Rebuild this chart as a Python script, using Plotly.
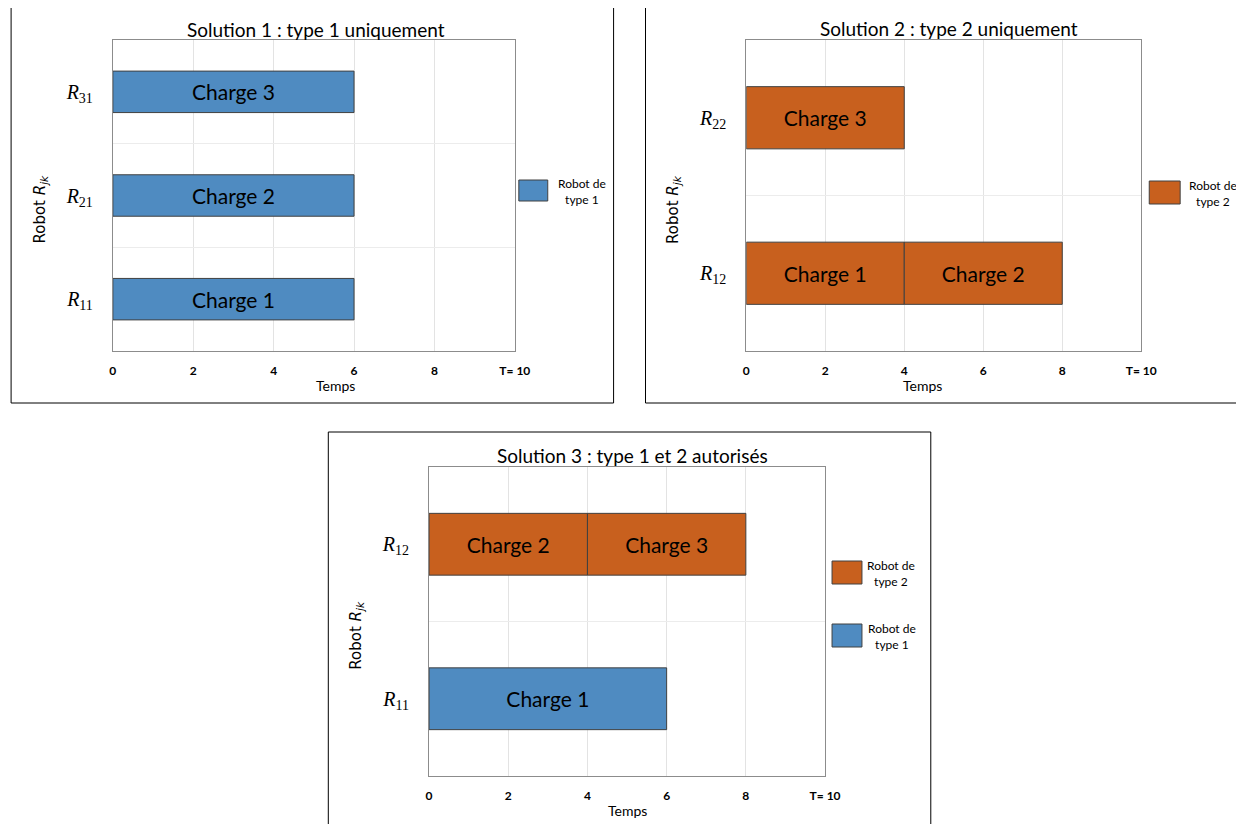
import plotly.graph_objects as go

OFF = 8              # default page margin of the html body
SX = 1260 / 1244     # horizontal page-to-picture correction observed
W, H = 1252, 816

# ---------------- data ----------------
s1_robots = ["R31", "R21", "R11"]
s1_start = [0, 0, 0]
s1_dur = [6, 6, 6]
s1_charge = ["Charge 3", "Charge 2", "Charge 1"]
s1_order = ["R11", "R21", "R31"]

s2_robots = ["R22", "R12", "R12"]
s2_start = [0, 0, 4]
s2_dur = [4, 4, 4]
s2_charge = ["Charge 3", "Charge 1", "Charge 2"]
s2_order = ["R12", "R22"]

s3_t2_robots = ["R12", "R12"]
s3_t2_start = [0, 4]
s3_t2_dur = [4, 4]
s3_t2_charge = ["Charge 2", "Charge 3"]

s3_t1_robots = ["R11"]
s3_t1_start = [0]
s3_t1_dur = [6]
s3_t1_charge = ["Charge 1"]
s3_order = ["R11", "R12"]

x_tickvals = [0, 2, 4, 6, 8, 10]
x_ticktext = ["0", "2", "4", "6", "8", "T= 10"]

titles = ["Solution 1 : type 1 uniquement",
          "Solution 2 : type 2 uniquement",
          "Solution 3 : type 1 et 2 autorisés"]

legend_names = {"t1": "Robot de<br>type 1", "t2": "Robot de<br>type 2"}

BLUE = "#4F8BC1"
ORANGE = "#C8601E"
EDGE = "#404040"
FONT = "Lato, 'Open Sans', sans-serif"


def lab(r):
    return f"<i>R</i><sub>{r[1:]}</sub>"


def px(x):
    return (x * SX - OFF) / W


def py(y):
    return 1 - (y - OFF) / H


fig = go.Figure()


def add_bars(robots, start, dur, charge, color, name, xa, ya):
    fig.add_trace(go.Bar(
        y=[lab(r) for r in robots], x=dur, base=start, orientation="h",
        width=0.4, marker=dict(color=color, line=dict(color=EDGE, width=1)),
        text=charge, textposition="inside", insidetextanchor="middle",
        textfont=dict(size=21, color="black", family=FONT),
        name=name.replace("<br>", " "), xaxis=xa, yaxis=ya, showlegend=False,
    ))


add_bars(s1_robots, s1_start, s1_dur, s1_charge, BLUE, legend_names["t1"], "x", "y")
add_bars(s2_robots, s2_start, s2_dur, s2_charge, ORANGE, legend_names["t2"], "x2", "y2")
add_bars(s3_t2_robots, s3_t2_start, s3_t2_dur, s3_t2_charge, ORANGE, legend_names["t2"], "x3", "y3")
add_bars(s3_t1_robots, s3_t1_start, s3_t1_dur, s3_t1_charge, BLUE, legend_names["t1"], "x3", "y3")

# plot-area rectangles (pixels): x0, x1, ytop, ybottom
areas = [(110, 513, 40, 351), (745, 1141, 40, 351), (427, 824, 467, 776)]
orders = [s1_order, s2_order, s3_order]

layout = dict(
    width=W, height=H, margin=dict(l=0, r=0, t=0, b=0),
    paper_bgcolor="white", plot_bgcolor="white", barmode="overlay",
    font=dict(family=FONT, color="black"),
    showlegend=False,
)

for i, ((x0, x1, yt, yb), order) in enumerate(zip(areas, orders)):
    sx = "" if i == 0 else str(i + 1)
    layout["xaxis" + sx] = dict(
        domain=[px(x0), px(x1)], anchor="y" + sx, range=[0, 10],
        tickmode="array", tickvals=x_tickvals, ticktext=x_ticktext,
        tickfont=dict(size=12, family=FONT, weight="bold"),
        showgrid=True, gridcolor="#e3e3e3", gridwidth=1, zeroline=False,
        showline=True, mirror=True, linecolor="#8c8c8c", linewidth=1,
        ticks="", ticklabelstandoff=9, fixedrange=True,
    )
    layout["yaxis" + sx] = dict(
        domain=[py(yb), py(yt)], anchor="x" + sx, type="category",
        categoryorder="array", categoryarray=[lab(r) for r in order],
        range=[-0.5, len(order) - 0.5], tickson="boundaries",
        tickfont=dict(size=20, family="'Liberation Serif', serif"),
        showgrid=True, gridcolor="#ececec", gridwidth=1,
        showline=True, mirror=True, linecolor="#8c8c8c", linewidth=1,
        ticks="", ticklabelstandoff=15, fixedrange=True,
    )

fig.update_layout(**layout)

# outer panel boxes
boxes = [(8, 612, 7, 403), (644, 1243, 7, 403), (326, 930, 432, 840)]
for (bx0, bx1, by0, by1) in boxes:
    fig.add_shape(type="rect", xref="paper", yref="paper",
                  x0=px(bx0), x1=px(bx1), y0=py(by1), y1=py(by0),
                  line=dict(color="black", width=1), fillcolor="rgba(0,0,0,0)")

# legends (swatch + centred two-line label)
legend_items = [
    (517, 546, 180, 201, BLUE, legend_names["t1"], 580),
    (1149, 1180, 181, 204, ORANGE, legend_names["t2"], 1213),
    (831, 861, 561, 584, ORANGE, legend_names["t2"], 890),
    (831, 861, 624, 647, BLUE, legend_names["t1"], 891),
]
for (lx0, lx1, ly0, ly1, col, txt, tx) in legend_items:
    fig.add_shape(type="rect", xref="paper", yref="paper",
                  x0=px(lx0), x1=px(lx1), y0=py(ly1), y1=py(ly0),
                  line=dict(color=EDGE, width=1), fillcolor=col)
    fig.add_annotation(text=txt, x=px(tx), y=py((ly0 + ly1) / 2 + 1),
                       xref="paper", yref="paper", showarrow=False,
                       align="center", xanchor="center", yanchor="middle",
                       font=dict(size=12, family=FONT))

# titles
title_pos = [(314, 29), (948, 28), (631, 455)]
for t, (tx, ty) in zip(titles, title_pos):
    fig.add_annotation(text=t, x=px(tx), y=py(ty), xref="paper", yref="paper",
                       showarrow=False, font=dict(size=19, family=FONT),
                       xanchor="center", yanchor="middle")

# axis titles
for (x0, x1, yt, yb) in areas:
    fig.add_annotation(text="Temps", x=px((x0 + x1) / 2), y=py(yb + 34),
                       xref="paper", yref="paper", showarrow=False,
                       font=dict(size=14, family=FONT), yanchor="middle")
    fig.add_annotation(text="Robot <i>R</i><sub><i>jk</i></sub>", x=px(x0 - 73),
                       y=py((yt + yb) / 2 + 14), xref="paper", yref="paper",
                       showarrow=False, textangle=-90,
                       font=dict(size=15, family="'DejaVu Sans', sans-serif"),
                       xanchor="center", yanchor="middle")

fig.write_html("out.html")
